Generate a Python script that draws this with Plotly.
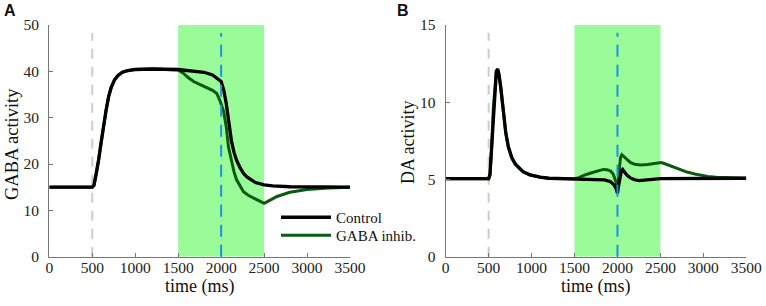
import plotly.graph_objects as go

# ---------------- data ----------------
time_ticks = [0, 500, 1000, 1500, 2000, 2500, 3000, 3500]
gaba_ticks = [0, 10, 20, 30, 40, 50]
da_ticks = [0, 5, 10, 15]

stim_onset = 500
inhib_start, inhib_end = 1500, 2500
reward_time = 2000

# GABA activity, Control
gaba_ctrl_t = [0, 500, 520, 550, 575, 600, 630, 660, 690, 720, 760, 800, 850, 900, 1000, 1200,
               1500, 1700, 1800, 1900, 1950, 2000, 2030, 2060, 2090, 2120, 2150, 2180, 2220,
               2260, 2300, 2350, 2400, 2500, 2600, 2800, 3000, 3500]
gaba_ctrl_v = [15, 15, 15.4, 18, 21, 24.3, 28.5, 31.5, 34.5, 36.5, 38.2, 39.1, 39.8, 40.1, 40.4, 40.5,
               40.4, 40.1, 39.8, 39.2, 38.6, 37.8, 36, 33, 29, 25, 22.5, 20.8, 19.2,
               18, 17.2, 16.5, 16, 15.5, 15.3, 15.1, 15.05, 15]

# GABA activity, GABA inhibition
gaba_inh_t = [0, 500, 520, 550, 575, 600, 630, 660, 690, 720, 760, 800, 850, 900, 1000, 1200,
              1500, 1560, 1620, 1680, 1750, 1830, 1900, 1950, 1990, 2030, 2060, 2085, 2120,
              2150, 2180, 2220, 2260, 2320, 2380, 2440, 2500, 2560, 2650, 2800, 3000, 3250, 3500]
gaba_inh_v = [15, 15, 15.4, 18, 21, 24.3, 28.5, 31.5, 34.5, 36.5, 38.2, 39.1, 39.8, 40.1, 40.4, 40.5,
              40.3, 39.6, 38.6, 37.8, 37.2, 36.6, 35.9, 35.2, 33.5, 31.3, 28, 23.7, 20.4,
              18.3, 16.6, 15.2, 14, 13.2, 12.6, 12, 11.5, 12.1, 13, 13.9, 14.5, 14.85, 15]

# DA activity, Control
da_ctrl_t = [0, 500, 515, 535, 555, 575, 590, 605, 620, 640, 670, 700, 730, 770, 810, 850, 900,
             980, 1100, 1200, 1500, 1700, 1850, 1920, 1960, 1985, 2000, 2010, 2025, 2045, 2060,
             2080, 2110, 2150, 2200, 2250, 2300, 2400, 2500, 3500]
da_ctrl_v = [5.05, 5.05, 5.3, 7.1, 9.7, 11.4, 12.0, 12.15, 11.8, 11.0, 9.3, 8.0, 7.1, 6.4, 6.0, 5.75, 5.5,
             5.3, 5.15, 5.08, 5.05, 5.03, 4.97, 4.85, 4.65, 4.4, 4.1, 4.5, 5.1, 5.55, 5.65,
             5.5, 5.28, 5.1, 4.98, 4.93, 4.95, 5.02, 5.05, 5.08]

# DA activity, GABA inhibition
da_inh_t = [0, 500, 515, 535, 555, 575, 590, 605, 620, 640, 670, 700, 730, 770, 810, 850, 900,
            980, 1100, 1200, 1500, 1550, 1600, 1680, 1760, 1835, 1880, 1920, 1950, 1975, 1995,
            2005, 2020, 2035, 2050, 2070, 2100, 2150, 2200, 2270, 2350, 2420, 2480, 2510, 2560,
            2650, 2730, 2810, 2900, 2960, 3050, 3150, 3300, 3500]
da_inh_v = [5.05, 5.05, 5.3, 7.1, 9.7, 11.4, 12.0, 12.15, 11.8, 11.0, 9.3, 8.0, 7.1, 6.4, 6.0, 5.75, 5.5,
            5.3, 5.15, 5.08, 5.05, 5.12, 5.25, 5.4, 5.55, 5.65, 5.63, 5.55, 5.35, 5.0, 4.6,
            4.5, 5.6, 6.4, 6.6, 6.5, 6.3, 6.1, 5.98, 5.93, 5.97, 6.03, 6.08, 6.1, 6.0,
            5.8, 5.62, 5.48, 5.35, 5.28, 5.2, 5.15, 5.1, 5.08]

gaba_range = [0, 50]
da_range = [0, 15]
dash_top_gaba = 48.3
dash_top_da = 14.5

# ---------------- style ----------------
BLACK = "#000000"
DKGREEN = "#0b5a10"
LTGREEN = "#99fc99"
BLUE = "#1e90e6"
GRAY = "#cccccc"
AXC = "#767676"
SERIF = "Liberation Serif"
SANS = "Liberation Sans"

fig = go.Figure()

def add_panel(xa, ya, ctrl_t, ctrl_v, inh_t, inh_v, top, legend):
    fig.add_trace(go.Scatter(x=[stim_onset, stim_onset], y=[0, top], mode="lines",
                             line=dict(color=GRAY, width=2, dash="10px,8px"),
                             xaxis=xa, yaxis=ya, showlegend=False, hoverinfo="skip"))
    fig.add_trace(go.Scatter(x=inh_t, y=inh_v, mode="lines", name="GABA inhib.",
                             line=dict(color=DKGREEN, width=3), xaxis=xa, yaxis=ya,
                             showlegend=legend, legend="legend2"))
    fig.add_trace(go.Scatter(x=ctrl_t, y=ctrl_v, mode="lines", name="Control",
                             line=dict(color=BLACK, width=3.3), xaxis=xa, yaxis=ya,
                             showlegend=legend, legend="legend"))
    fig.add_trace(go.Scatter(x=[reward_time, reward_time], y=[0, top], mode="lines",
                             line=dict(color=BLUE, width=2, dash="12px,8px"),
                             xaxis=xa, yaxis=ya, showlegend=False, hoverinfo="skip"))

add_panel("x", "y", gaba_ctrl_t, gaba_ctrl_v, gaba_inh_t, gaba_inh_v, dash_top_gaba, True)
add_panel("x2", "y2", da_ctrl_t, da_ctrl_v, da_inh_t, da_inh_v, dash_top_da, False)

fig.add_shape(type="rect", xref="x", yref="y", x0=inhib_start, x1=inhib_end,
              y0=gaba_range[0], y1=gaba_range[1], fillcolor=LTGREEN, line_width=0, layer="below")
fig.add_shape(type="rect", xref="x2", yref="y2", x0=inhib_start, x1=inhib_end,
              y0=da_range[0], y1=da_range[1], fillcolor=LTGREEN, line_width=0, layer="below")

W, H = 766, 306
ydom = [(306 - 256.7) / H, (306 - 25) / H]

axis_common = dict(showline=True, linecolor=AXC, linewidth=1.3, ticks="inside", ticklen=4,
                   tickcolor=AXC, tickwidth=1, showgrid=False, zeroline=False,
                   tickfont=dict(family=SERIF, size=15.5, color="#222222"), automargin=False)

leg_common = dict(xanchor="left", yanchor="top", bgcolor="rgba(0,0,0,0)", borderwidth=0,
                  itemwidth=50, font=dict(family=SERIF, size=15, color="#111111"))

fig.update_layout(
    width=W, height=H, margin=dict(l=0, r=0, t=0, b=0),
    paper_bgcolor="white", plot_bgcolor="white",
    font=dict(family=SERIF),
    xaxis=dict(domain=[49.3 / W, 350 / W], range=[0, 3500], tickvals=time_ticks, anchor="y",
               ticklabelstandoff=-3, **axis_common),
    yaxis=dict(domain=ydom, range=gaba_range, tickvals=gaba_ticks, anchor="x",
               ticklabelstandoff=6, **axis_common),
    xaxis2=dict(domain=[445.7 / W, 746.3 / W], range=[0, 3500], tickvals=time_ticks, anchor="y2",
                ticklabelstandoff=-3, **axis_common),
    yaxis2=dict(domain=ydom, range=da_range, tickvals=da_ticks, anchor="x2",
                ticklabelstandoff=6, **axis_common),
    showlegend=True,
    legend=dict(x=276 / W, y=1 - 201 / H, **leg_common),
    legend2=dict(x=276 / W, y=1 - 219 / H, **leg_common),
)

def ann(text, x, y, size, family, angle=0, bold=False):
    fig.add_annotation(text=f"<b>{text}</b>" if bold else text, x=x / W, y=1 - y / H,
                       xref="paper", yref="paper", showarrow=False, textangle=angle,
                       font=dict(family=family, size=size, color="#111111"),
                       xanchor="center", yanchor="middle")

ann("GABA activity", 12, 144, 18.5, SERIF, angle=-90)
ann("DA activity", 408, 142, 18, SERIF, angle=-90)
ann("time (ms)", 200, 286, 18, SERIF)
ann("time (ms)", 596, 286, 18, SERIF)
ann("A", 10, 11, 16, SANS, bold=True)
ann("B", 403, 11, 16, SANS, bold=True)

fig.write_html("out.html", config={"displayModeBar": False},
               post_script="document.body.style.margin='0px';")
